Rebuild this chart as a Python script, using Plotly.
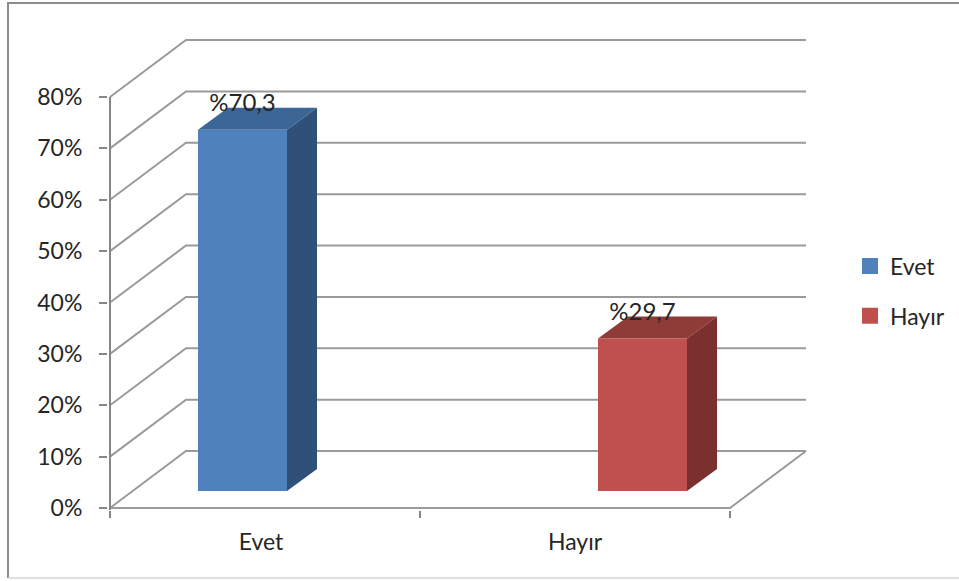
import plotly.graph_objects as go

categories = ["Evet", "Hayır"]
values = [70.3, 29.7]
y_ticks = [0, 10, 20, 30, 40, 50, 60, 70, 80]
x_boundaries = [-0.5, 0.5, 1.5]

front_colors = ["#4f81bd", "#c0504d"]
top_colors = ["#3c6696", "#8f3c39"]
side_colors = ["#2f5078", "#7a312e"]

FONT = "Lato"
TEXT = "#262626"
GRID = "#9a9a9a"
AXIS = "#868686"
PX_X = 310.0           # pixels per category
PX_Y = 411.0 / 80.0    # pixels per percent
WALL_DX = 76 / PX_X
WALL_DY = 57 / PX_Y
BAR_DX = 30 / PX_X
BAR_DY = 22 / PX_Y
BAR_W = 89 / PX_X
LIFT = 17 / PX_Y
BAR_SHIFT = [-22.5 / PX_X, 67.5 / PX_X]
LABEL_DY = 24.5 / PX_Y
LABEL_SHIFT = [-4 / PX_X, 0]
PAD = 2                # plot-area padding in pixels, keeps edge lines unclipped

fig = go.Figure()
x0, x1 = x_boundaries[0], x_boundaries[-1]
shapes = []


def line_path(points):
    return "M " + " L ".join(f"{a},{b}" for a, b in points)


for t in y_ticks:
    shapes.append(dict(type="path", xref="x", yref="y", layer="below",
                       path=line_path([(x0, t), (x0 + WALL_DX, t + WALL_DY), (x1 + WALL_DX, t + WALL_DY)]),
                       line=dict(color=GRID, width=2)))
shapes.append(dict(type="path", xref="x", yref="y", layer="below",
                   path=line_path([(x0, y_ticks[0]), (x1, y_ticks[0]), (x1 + WALL_DX, y_ticks[0] + WALL_DY)]),
                   line=dict(color=GRID, width=2)))
shapes.append(dict(type="path", xref="x", yref="y", layer="below",
                   path=line_path([(x0, y_ticks[0] - 1.5), (x0, y_ticks[-1])]),
                   line=dict(color=AXIS, width=2)))
# chart frame, paper fractions of the plot area
plot_w, plot_h = 959 - 108 - 151, 581 - 38 - 71
fx0 = (8 - 108) / plot_w
fy0 = (510 - 578) / plot_h
fy1 = 1 + (38 - 3) / plot_h
fx1 = (959 + 5 - 108) / plot_w
shapes.append(dict(type="path", xref="paper", yref="paper", layer="below",
                   path=line_path([(fx0, fy0), (fx0, fy1), (fx1, fy1)]),
                   line=dict(color="#8c8c8c", width=2)))
shapes.append(dict(type="path", xref="paper", yref="paper", layer="below",
                   path=line_path([(fx0, fy0), (fx1, fy0)]),
                   line=dict(color="#d4d4d4", width=1.5)))

for i, (cat, v) in enumerate(zip(categories, values)):
    cx = i + BAR_SHIFT[i]
    left, right = cx - BAR_W / 2, cx + BAR_W / 2
    bottom, top = LIFT, LIFT + v
    fig.add_trace(go.Bar(x=[cx], y=[v], base=[LIFT], width=[BAR_W], name=cat,
                         marker=dict(color=front_colors[i], line=dict(width=0)),
                         showlegend=False, hoverinfo="skip"))
    fig.add_trace(go.Scatter(
        x=[left, right, right + BAR_DX, left + BAR_DX, left],
        y=[top, top, top + BAR_DY, top + BAR_DY, top],
        mode="lines", fill="toself", fillcolor=top_colors[i], line=dict(width=0),
        showlegend=False, hoverinfo="skip", cliponaxis=False))
    fig.add_trace(go.Scatter(
        x=[right, right + BAR_DX, right + BAR_DX, right, right],
        y=[bottom, bottom + BAR_DY, top + BAR_DY, top, bottom],
        mode="lines", fill="toself", fillcolor=side_colors[i], line=dict(width=0),
        showlegend=False, hoverinfo="skip", cliponaxis=False))

for i, (cat, v) in enumerate(zip(categories, values)):
    fig.add_trace(go.Scatter(
        x=[i + BAR_SHIFT[i]], y=[LIFT + v + LABEL_DY],
        mode="text", text=["%" + f"{v:.1f}".replace(".", ",")],
        textposition="middle center", textfont=dict(family=FONT, size=24, color=TEXT),
        showlegend=False, hoverinfo="skip", cliponaxis=False))

for i, cat in enumerate(categories):
    fig.add_trace(go.Scatter(x=[None], y=[None], mode="markers", name=cat, legendgroup=cat,
                             marker=dict(symbol="square", size=16, color=front_colors[i])))

fig.update_layout(
    width=959, height=581,
    margin=dict(l=108, r=151, t=38, b=71),
    paper_bgcolor="white", plot_bgcolor="white",
    font=dict(family=FONT, size=23, color=TEXT),
    barmode="overlay",
    shapes=shapes,
    legend=dict(xref="container", yref="container", x=850 / 959, y=1 - 291 / 581,
                xanchor="left", yanchor="middle",
                tracegroupgap=17, font=dict(family=FONT, size=23, color=TEXT),
                bgcolor="rgba(0,0,0,0)"),
    xaxis=dict(range=[x0 - PAD / PX_X, x1 + WALL_DX + PAD / PX_X], tickmode="array",
               tickvals=[i + LABEL_SHIFT[i] for i in range(len(categories))], ticktext=categories,
               ticks="", showgrid=False, zeroline=False, showline=False, ticklabelstandoff=16,
               minor=dict(tickmode="array", tickvals=x_boundaries, ticks="outside", ticklen=7,
                          tickwidth=2, tickcolor=AXIS, showgrid=False)),
    yaxis=dict(range=[y_ticks[0] - PAD / PX_Y, y_ticks[-1] + WALL_DY + PAD / PX_Y],
               tickmode="array", tickvals=y_ticks,
               ticktext=[f"{t}%" for t in y_ticks], ticks="outside", ticklen=8, tickwidth=2,
               tickcolor=AXIS, showgrid=False, zeroline=False, showline=False,
               ticklabelstandoff=12),
)

fig.write_html("out.html", post_script="document.body.style.margin='0';",
               config={"displayModeBar": False})
